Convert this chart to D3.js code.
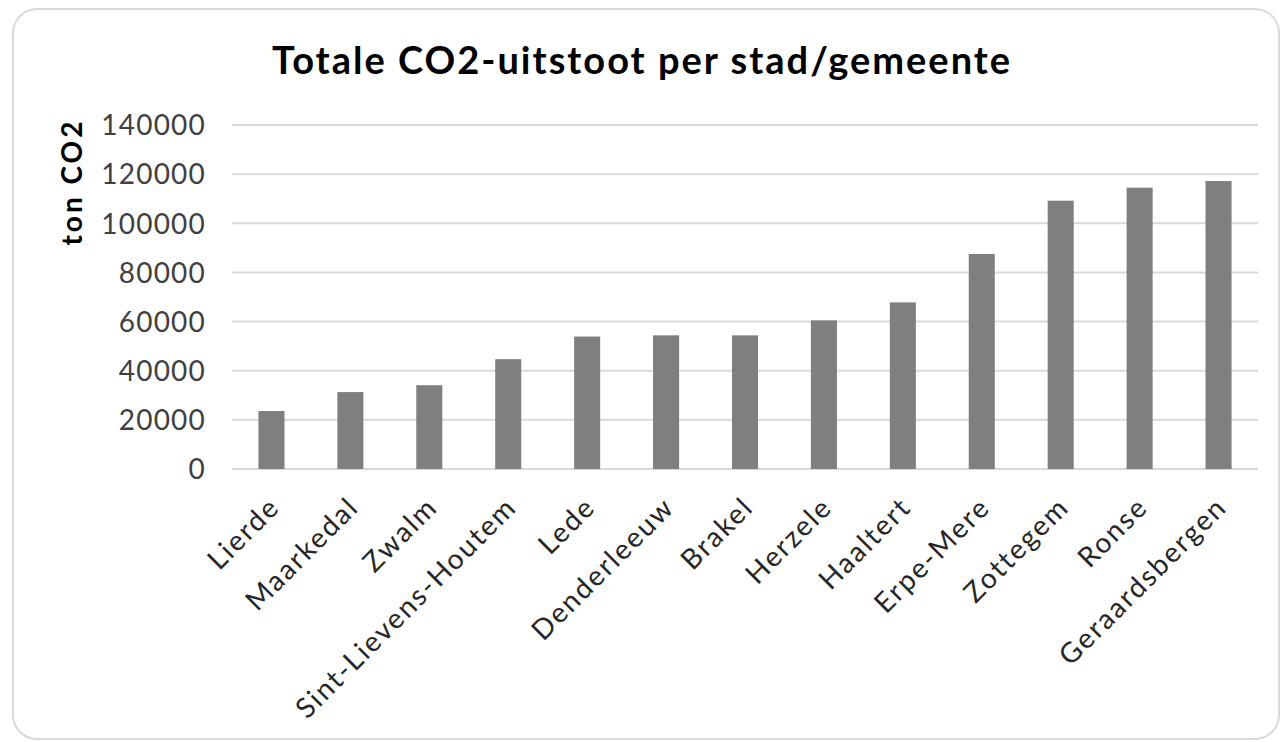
<!DOCTYPE html>
<html>
<head>
<meta charset="utf-8">
<script src="https://cdn.jsdelivr.net/npm/d3@7"></script>
<style>
  body { margin: 0; background: #fff; }
  svg { display: block; }
</style>
</head>
<body>
<div id="chart"></div>
<script>
// data
const cities = ['Lierde', 'Maarkedal', 'Zwalm', 'Sint-Lievens-Houtem', 'Lede', 'Denderleeuw',
  'Brakel', 'Herzele', 'Haaltert', 'Erpe-Mere', 'Zottegem', 'Ronse', 'Geraardsbergen'];
const emissions = [23600, 31300, 34100, 44700, 53900, 54400, 54400, 60500, 67800, 87500, 109200, 114500, 117200];
const yTicks = [0, 20000, 40000, 60000, 80000, 100000, 120000, 140000];

const width = 1281;
const height = 742;
const font = 'Lato, "Liberation Sans", sans-serif';

const svg = d3.select('#chart')
  .append('svg')
  .attr('width', width)
  .attr('height', height);

// chart frame
svg.append('rect')
  .attr('x', 13)
  .attr('y', 9)
  .attr('width', 1266)
  .attr('height', 730)
  .attr('rx', 24)
  .attr('fill', '#fff')
  .attr('stroke', '#d9d9d9')
  .attr('stroke-width', 2);

const x = d3.scaleBand()
  .domain(cities)
  .range([232, 1258])
  .paddingInner(0.67)
  .paddingOuter(0.335);

const y = d3.scaleLinear()
  .domain([0, 140000])
  .range([469, 125]);

// gridlines
svg.append('g')
  .selectAll('line')
  .data(yTicks)
  .enter()
  .append('line')
  .attr('x1', 232)
  .attr('x2', 1258)
  .attr('y1', d => y(d))
  .attr('y2', d => y(d))
  .attr('stroke', '#d9d9d9')
  .attr('stroke-width', 2);

// bars
svg.append('g')
  .selectAll('rect')
  .data(cities)
  .enter()
  .append('rect')
  .attr('x', (d, i) => x(d))
  .attr('y', (d, i) => y(emissions[i]))
  .attr('width', x.bandwidth())
  .attr('height', (d, i) => y(0) - y(emissions[i]))
  .attr('fill', '#7f7f7f');

// y axis labels
const yAxis = svg.append('g')
  .attr('transform', 'translate(206,0)')
  .call(d3.axisLeft(y).tickValues(yTicks).tickSize(0).tickPadding(0).tickFormat(d3.format('d')));
yAxis.select('.domain').remove();
yAxis.selectAll('text')
  .attr('font-family', font)
  .attr('font-size', 28)
  .attr('letter-spacing', 1.2)
  .attr('fill', '#404040')
  .attr('dy', '0.35em');

// x axis labels
const xAxis = svg.append('g')
  .attr('transform', 'translate(0,469)')
  .call(d3.axisBottom(x).tickSize(0).tickPadding(0));
xAxis.select('.domain').remove();
xAxis.selectAll('text')
  .attr('font-family', font)
  .attr('font-size', 28)
  .attr('letter-spacing', 2)
  .attr('fill', '#262626')
  .attr('text-anchor', 'end')
  .attr('dy', 0)
  .attr('y', 0)
  .attr('transform', 'translate(10,40) rotate(-45)');

// title
svg.append('text')
  .attr('x', 642)
  .attr('y', 74)
  .attr('text-anchor', 'middle')
  .attr('font-family', font)
  .attr('font-weight', 'bold')
  .attr('font-size', 38)
  .attr('letter-spacing', 2)
  .attr('fill', '#000')
  .text('Totale CO2-uitstoot per stad/gemeente');

// y axis title
svg.append('text')
  .attr('transform', 'translate(82,182) rotate(-90)')
  .attr('text-anchor', 'middle')
  .attr('font-family', font)
  .attr('font-weight', 'bold')
  .attr('font-size', 28)
  .attr('letter-spacing', 3)
  .attr('fill', '#000')
  .text('ton CO2');
</script>
</body>
</html>
